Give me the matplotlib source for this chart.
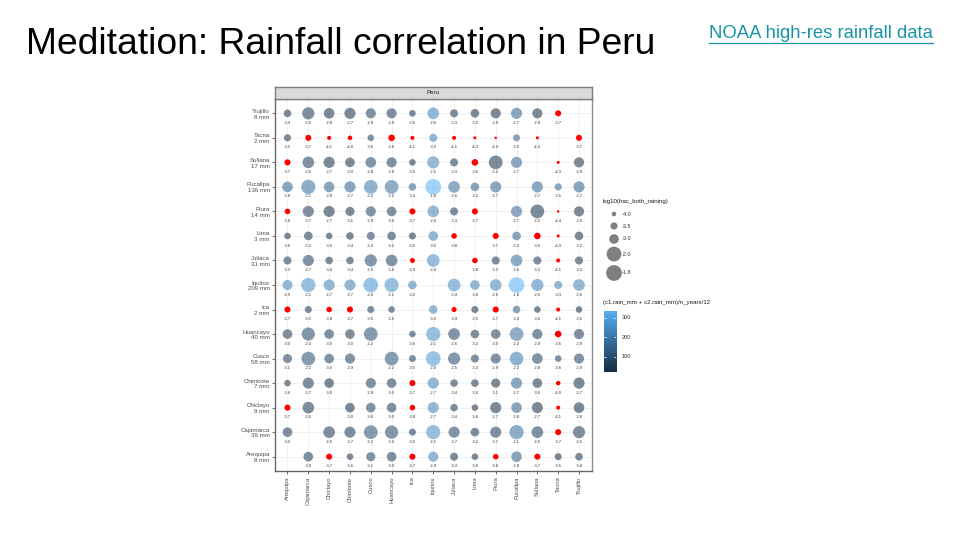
import numpy as np
import matplotlib.pyplot as plt
from matplotlib.colors import LinearSegmentedColormap, Normalize
from matplotlib.lines import Line2D

plt.rcParams['font.family'] = ['Liberation Sans', 'DejaVu Sans']

# cities (columns left->right, rows bottom->top)
cities = ["Arequipa", "Cajamarca", "Chiclayo", "Chimbote", "Cusco", "Huancayo", "Ica",
          "Iquitos", "Juliaca", "Lima", "Piura", "Pucallpa", "Sullana", "Tacna", "Trujillo"]
rain_mm = [8, 39, 9, 7, 58, 40, 2, 209, 31, 3, 14, 136, 17, 2, 8]

N = None
# log10(frac_both_raining), one row per city in the order of `cities`
vals = {
    "Arequipa":  [N, -3.0, -3.7, -3.6, -3.1, -3.0, -3.7, -2.9, -3.3, -3.6, -3.8, -2.8, -3.7, -3.5, -3.4],
    "Cajamarca": [-3.0, N, -2.6, -2.7, -2.2, -2.3, -3.5, -2.1, -2.7, -3.2, -2.7, -2.1, -2.6, -3.7, -2.5],
    "Chiclayo":  [-3.7, -2.6, N, -3.0, -3.0, -3.0, -3.8, -2.7, -3.4, -3.6, -2.7, -2.8, -2.7, -4.1, -2.8],
    "Chimbote":  [-3.6, -2.7, -3.0, N, -2.9, -3.0, -3.7, -2.7, -3.4, -3.4, -3.1, -2.7, -3.0, -4.0, -2.7],
    "Cusco":     [-3.1, -2.2, -3.0, -2.9, N, -2.2, -3.5, -2.0, -2.5, -3.3, -2.9, -2.2, -2.8, -3.6, -2.9],
    "Huancayo":  [-3.0, -2.3, -3.0, -3.0, -2.2, N, -3.6, -2.1, -2.6, -3.2, -3.0, -2.2, -2.9, -3.6, -2.9],
    "Ica":       [-3.7, -3.5, -3.8, -3.7, -3.5, -3.6, N, -3.2, -3.9, -3.5, -3.7, -3.4, -3.6, -4.1, -3.6],
    "Iquitos":   [-2.9, -2.1, -2.7, -2.7, -2.0, -2.1, -3.2, N, -2.4, -3.0, -2.6, -1.8, -2.5, -3.3, -2.6],
    "Juliaca":   [-3.3, -2.7, -3.4, -3.4, -2.5, -2.6, -3.9, -2.4, N, -3.8, -3.3, -2.6, -3.3, -4.1, -3.3],
    "Lima":      [-3.6, -3.2, -3.6, -3.4, -3.3, -3.2, -3.5, -3.0, -3.8, N, -3.7, -3.2, -3.6, -4.3, -3.2],
    "Piura":     [-3.8, -2.7, -2.7, -3.1, -2.9, -3.0, -3.7, -2.6, -3.3, -3.7, N, -2.7, -2.2, -4.4, -2.9],
    "Pucallpa":  [-2.8, -2.1, -2.8, -2.7, -2.2, -2.2, -3.4, -1.8, -2.6, -3.2, -2.7, N, -2.7, -3.5, -2.7],
    "Sullana":   [-3.7, -2.6, -2.7, -3.0, -2.8, -2.9, -3.6, -2.5, -3.3, -3.6, -2.2, -2.7, N, -4.3, -2.9],
    "Tacna":     [-3.5, -3.7, -4.1, -4.0, -3.6, -3.6, -4.1, -3.3, -4.1, -4.3, -4.4, -3.5, -4.3, N, -3.7],
    "Trujillo":  [-3.4, -2.5, -2.8, -2.7, -2.9, -2.9, -3.6, -2.6, -3.3, -3.2, -2.9, -2.7, -2.9, -3.7, N],
}

# pairs drawn in red
red_pairs = [("Trujillo", "Tacna"), ("Tacna", "Cajamarca"), ("Tacna", "Chiclayo"), ("Tacna", "Chimbote"),
             ("Tacna", "Huancayo"), ("Tacna", "Ica"), ("Tacna", "Juliaca"), ("Tacna", "Lima"),
             ("Tacna", "Piura"), ("Tacna", "Sullana"), ("Sullana", "Arequipa"), ("Sullana", "Lima"),
             ("Piura", "Arequipa"), ("Piura", "Ica"), ("Piura", "Lima"), ("Lima", "Juliaca"),
             ("Juliaca", "Ica"), ("Ica", "Arequipa"), ("Ica", "Chiclayo"), ("Ica", "Chimbote"),
             ("Chiclayo", "Arequipa")]

size_breaks = [-4.0, -3.5, -3.0, -2.0, -1.8]
color_ticks = [100, 200, 300]
color_lim = (22, 334)

W, H = 960, 540
fig = plt.figure(figsize=(W / 100, H / 100), dpi=100)


def box(x0, y0, x1, y1):
    # pixel box (top-left origin) -> figure fraction
    return [x0 / W, 1 - y1 / H, (x1 - x0) / W, (y1 - y0) / H]


def dot_area(v):
    d = 2.5 + (v + 4.4) * 5.1  # diameter in px
    return (d * 0.72) ** 2


cmap = LinearSegmentedColormap.from_list("gg", ["#132B43", "#56B1F7"])
norm = Normalize(*color_lim)

ax = fig.add_axes(box(275, 98.6, 591.5, 471.4))
n = len(cities)
red = set()
for a, b in red_pairs:
    red.add((a, b))
    red.add((b, a))

xs, ys, ss, cs = [], [], [], []
rx, ry, rs = [], [], []
for j, row in enumerate(cities):
    for i, v in enumerate(vals[row]):
        if v is None:
            continue
        if (row, cities[i]) in red:
            rx.append(i); ry.append(j); rs.append(dot_area(v))
        else:
            xs.append(i); ys.append(j); ss.append(dot_area(v))
            cs.append(cmap(norm(min(max(rain_mm[i] + rain_mm[j], color_lim[0]), color_lim[1]))))
        ax.annotate(f"{v:.1f}", (i, j), xytext=(0, -6.9), textcoords="offset points",
                    ha="center", va="center", fontsize=3.0, color="#333333")

ax.scatter(xs, ys, s=ss, c=cs, alpha=0.55, linewidths=0, zorder=3)
ax.scatter(rx, ry, s=rs, c="#FF0000", linewidths=0, zorder=4)

ax.set_xlim(-0.6, n - 0.4)
ax.set_ylim(-0.6, n - 0.4)
ax.set_xticks(range(n))
ax.set_xticklabels(cities, rotation=90, fontsize=4.2, color="#4D4D4D")
ax.set_yticks(range(n))
ax.set_yticklabels([f"{c}\n{m} mm" for c, m in zip(cities, rain_mm)], fontsize=4.4,
                   color="#4D4D4D", linespacing=1.2)
ax.tick_params(length=2.2, width=0.5, color="#333333", pad=1.5)
ax.grid(True, color="#EBEBEB", linewidth=0.5)
ax.set_axisbelow(True)
for sp in ax.spines.values():
    sp.set_color("#8C8C8C")
    sp.set_linewidth(1.0)
ax.spines["left"].set_color("#666666")
ax.spines["bottom"].set_color("#666666")

# facet strip
strip = fig.add_axes(box(275, 86.5, 591.5, 98.6))
strip.set_facecolor("#D9D9D9")
strip.set_xticks([]); strip.set_yticks([])
for sp in strip.spines.values():
    sp.set_color("#7F7F7F")
    sp.set_linewidth(1.0)
strip.text(0.5, 0.5, "Peru", ha="center", va="center", fontsize=4.4, color="#1A1A1A",
           transform=strip.transAxes)

# overlay in pixel coordinates for slide text and legends
ov = fig.add_axes([0, 0, 1, 1], facecolor="none")
ov.set_xlim(0, W); ov.set_ylim(H, 0)
ov.axis("off")

ov.text(26, 54, "Meditation: Rainfall correlation in Peru", fontsize=26.8, va="baseline",
        ha="left", color="black")
link = ov.text(709, 38, "NOAA high-res rainfall data", fontsize=13.3, va="baseline", ha="left",
               color="#1795A8")
fig.canvas.draw()
bb = link.get_window_extent(fig.canvas.get_renderer())
ov.add_line(Line2D([bb.x0, bb.x1], [H - bb.y0 + 1.0, H - bb.y0 + 1.0], color="#1795A8", lw=0.9))

# size legend
ov.text(603, 201, "log10(frac_both_raining)", fontsize=4.4, va="center", ha="left", color="#1A1A1A")
leg_y = [214, 226, 239, 254, 273]
ov.scatter([614] * len(size_breaks), leg_y, s=[dot_area(v) for v in size_breaks], c="#7F7F7F",
           linewidths=0)
for v, y in zip(size_breaks, leg_y):
    ov.text(622, y, f"{v:.1f}", fontsize=4.0, va="center", ha="left", color="#333333")

# colour bar
ov.text(603, 302.5, "(c1.rain_mm + c2.rain_mm)/n_years/12", fontsize=4.4, va="center", ha="left",
        color="#1A1A1A")
cax = fig.add_axes(box(604, 311, 616.3, 372.3))
grad = np.linspace(color_lim[0], color_lim[1], 200).reshape(-1, 1)
cax.imshow(grad, aspect="auto", cmap=cmap, norm=norm, origin="lower",
           extent=[0, 1, color_lim[0], color_lim[1]])
cax.set_xticks([])
cax.set_yticks([])
for sp in cax.spines.values():
    sp.set_visible(False)
for t in color_ticks:
    cax.plot([0, 0.2], [t, t], color="white", lw=0.5)
    cax.plot([0.8, 1], [t, t], color="white", lw=0.5)
    cax.text(1.45, t, str(t), fontsize=4.0, va="center", ha="left", color="#333333",
             transform=cax.get_yaxis_transform())
cax.set_xlim(0, 1)
cax.set_ylim(*color_lim)

fig.savefig("out.png", dpi=100)
